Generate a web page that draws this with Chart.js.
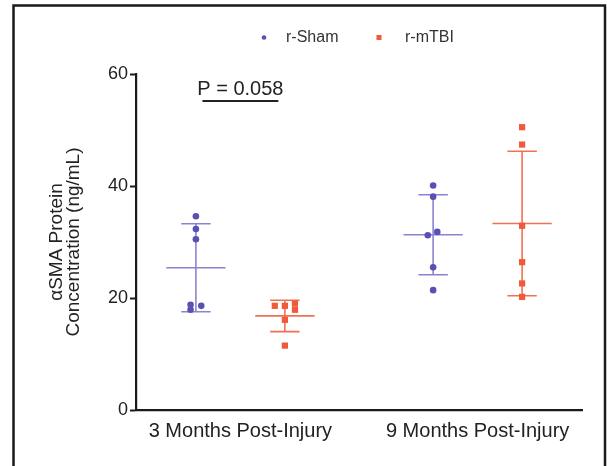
<!DOCTYPE html>
<html>
<head>
<meta charset="utf-8">
<script src="https://cdn.jsdelivr.net/npm/chart.js@4.4.1/dist/chart.umd.min.js"></script>
<style>
  html, body { margin: 0; padding: 0; background: #ffffff; }
  #wrap { width: 607px; height: 466px; position: relative; }
</style>
</head>
<body>
<div id="wrap"><canvas id="c" width="607" height="466"></canvas></div>
<script>
// ---- data ----
const categories = ['3 Months Post-Injury', '9 Months Post-Injury'];
const seriesNames = ['r-Sham', 'r-mTBI'];
const yTicks = [0, 20, 40, 60];

// individual animal values (ng/mL) and their horizontal positions (category units)
const sham3Values = [34.6, 32.3, 30.5, 18.8, 18.6, 17.9];
const sham3X      = [0.8125, 0.8125, 0.8125, 0.79, 0.835, 0.79];
const mtbi3Values = [19.0, 18.6, 18.6, 17.9, 16.1, 11.5];
const mtbi3X      = [1.23, 1.145, 1.1875, 1.23, 1.1875, 1.1875];
const sham9Values = [40.1, 38.1, 31.8, 31.2, 25.5, 21.4];
const sham9X      = [1.8125, 1.8125, 1.83, 1.79, 1.8125, 1.8125];
const mtbi9Values = [50.5, 47.4, 32.9, 26.4, 22.6, 20.2];
const mtbi9X      = [2.1875, 2.1875, 2.1875, 2.1875, 2.1875, 2.1875];

// group summary (mean and SD) per category
const shamMean = [25.4, 31.3];
const shamSD   = [7.85, 7.15];
const mtbiMean = [16.8, 33.3];
const mtbiSD   = [2.8, 12.9];
const shamCenter = [0.8125, 1.8125];
const mtbiCenter = [1.1875, 2.1875];

// significance annotation
const pText = 'P = 0.058';
const pBracket = { from: 0.84, to: 1.16, y: 55.2, textX: 1.0, textY: 56.3 };

// ---- styling ----
const SHAM_PT = '#5a50b2';
const SHAM_LN = '#8a83d2';
const MTBI_PT = '#f05a3a';
const MTBI_LN = '#f2714f';
const FONT = "'Liberation Sans', Arial, sans-serif";
const MEAN_HALF = 0.125;
const CAP_HALF = 0.062;

function pts(xs, ys) { return ys.map((v, i) => ({ x: xs[i], y: v })); }
function summaryLines(centers, means, sds) {
  const d = [];
  centers.forEach((c, i) => {
    d.push({ x: c - MEAN_HALF, y: means[i] }, { x: c + MEAN_HALF, y: means[i] }, { x: NaN, y: null });
    d.push({ x: c, y: means[i] - sds[i] }, { x: c, y: means[i] + sds[i] }, { x: NaN, y: null });
    d.push({ x: c - CAP_HALF, y: means[i] + sds[i] }, { x: c + CAP_HALF, y: means[i] + sds[i] }, { x: NaN, y: null });
    d.push({ x: c - CAP_HALF, y: means[i] - sds[i] }, { x: c + CAP_HALF, y: means[i] - sds[i] }, { x: NaN, y: null });
  });
  return d;
}

const framePlugin = {
  id: 'frameAndExtras',
  afterDraw(chart) {
    const ctx = chart.ctx;
    const xs = chart.scales.x, ys = chart.scales.y;
    ctx.save();
    // outer frame (open at the bottom)
    ctx.strokeStyle = '#1a1a1a';
    ctx.lineWidth = 2.5;
    ctx.beginPath();
    ctx.moveTo(13.5, 470);
    ctx.lineTo(13.5, 5.5);
    ctx.lineTo(605, 5.5);
    ctx.lineTo(605, 470);
    ctx.stroke();

    // legend
    ctx.font = '16px ' + FONT;
    ctx.fillStyle = '#333333';
    ctx.textBaseline = 'middle';
    ctx.textAlign = 'left';
    ctx.fillStyle = SHAM_PT;
    ctx.beginPath(); ctx.arc(264, 37.5, 2.3, 0, Math.PI * 2); ctx.fill();
    ctx.fillStyle = MTBI_PT;
    ctx.fillRect(376.5, 35, 5, 5);
    ctx.fillStyle = '#333333';
    ctx.fillText(seriesNames[0], 286, 38);
    ctx.fillText(seriesNames[1], 405, 38);

    // P-value annotation
    ctx.font = '20px ' + FONT;
    ctx.textAlign = 'center';
    ctx.textBaseline = 'alphabetic';
    ctx.fillStyle = '#222222';
    ctx.fillText(pText, xs.getPixelForValue(pBracket.textX), ys.getPixelForValue(pBracket.textY));
    ctx.strokeStyle = '#222222';
    ctx.lineWidth = 2;
    ctx.beginPath();
    const yy = ys.getPixelForValue(pBracket.y);
    ctx.moveTo(xs.getPixelForValue(pBracket.from), yy);
    ctx.lineTo(xs.getPixelForValue(pBracket.to), yy);
    ctx.stroke();
    ctx.restore();
  }
};

new Chart(document.getElementById('c'), {
  type: 'scatter',
  data: {
    datasets: [
      { label: seriesNames[0] + ' summary', type: 'line', data: summaryLines(shamCenter, shamMean, shamSD),
        borderColor: SHAM_LN, borderWidth: 1.6, pointRadius: 0, spanGaps: false, fill: false, order: 2 },
      { label: seriesNames[1] + ' summary', type: 'line', data: summaryLines(mtbiCenter, mtbiMean, mtbiSD),
        borderColor: MTBI_LN, borderWidth: 1.6, pointRadius: 0, spanGaps: false, fill: false, order: 2 },
      { label: seriesNames[0], data: pts(sham3X, sham3Values).concat(pts(sham9X, sham9Values)),
        pointStyle: 'circle', pointRadius: 3.3, backgroundColor: SHAM_PT, borderColor: SHAM_PT, borderWidth: 0, order: 1 },
      { label: seriesNames[1], data: pts(mtbi3X, mtbi3Values).concat(pts(mtbi9X, mtbi9Values)),
        pointStyle: 'rect', pointRadius: 4.4, backgroundColor: MTBI_PT, borderColor: MTBI_PT, borderWidth: 0, order: 1 }
    ]
  },
  options: {
    responsive: false,
    animation: false,
    devicePixelRatio: 1,
    layout: { padding: { left: 13, top: 74, right: 25, bottom: 0 } },
    plugins: { legend: { display: false }, tooltip: { enabled: false }, title: { display: false } },
    scales: {
      x: {
        type: 'linear', min: 0.56, max: 2.44,
        afterBuildTicks(scale) { scale.ticks = categories.map((c, i) => ({ value: i + 1 })); },
        afterFit(scale) { scale.height = 56; },
        ticks: {
          callback: (v) => categories[Math.round(v) - 1] || '',
          font: { family: FONT, size: 20 }, color: '#222222', padding: 9, maxRotation: 0, autoSkip: false
        },
        grid: { display: true, drawOnChartArea: false, drawTicks: false },
        border: { display: true, color: '#1a1a1a', width: 2.2 }
      },
      y: {
        min: 0, max: 60,
        afterBuildTicks(scale) { scale.ticks = yTicks.map(v => ({ value: v })); },
        afterFit(scale) { scale.width = 123; },
        ticks: { font: { family: FONT, size: 18 }, color: '#222222', padding: 2 },
        grid: { drawOnChartArea: false, drawTicks: true, tickLength: 6, tickColor: '#1a1a1a', tickWidth: 2 },
        border: { display: true, color: '#1a1a1a', width: 2.2 },
        title: {
          display: true, text: ['\u03B1SMA Protein', 'Concentration (ng/mL)'],
          font: { family: FONT, size: 19, lineHeight: 0.9 }, color: '#222222', padding: { top: 35, bottom: 0 }
        }
      }
    }
  },
  plugins: [framePlugin]
});
</script>
</body>
</html>
